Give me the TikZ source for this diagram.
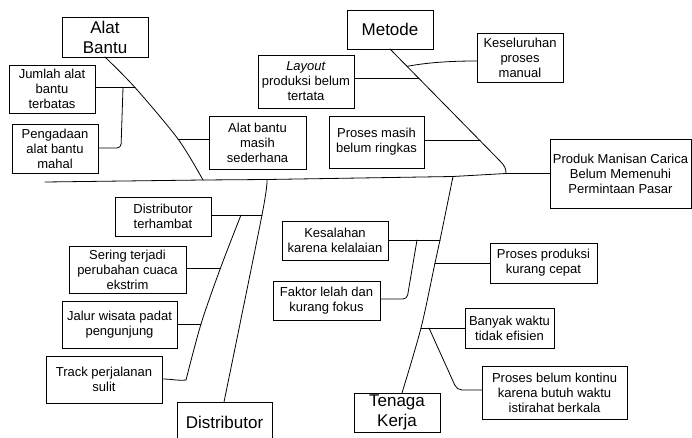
\documentclass[tikz,border=0pt]{standalone}
\usepackage{fontspec}
\setmainfont{Liberation Sans}
\usetikzlibrary{calc}
\begin{document}
\begin{tikzpicture}[x=1pt,y=-1pt,
  box/.style={draw, line width=0.8pt, align=center, inner sep=1pt, font=\fontsize{13}{15}\selectfont},
  bigbox/.style={box, font=\fontsize{17}{20}\selectfont},
  bone/.style={line width=0.8pt, line join=round, line cap=round}]
\fill[white] (0,0) rectangle (692,438);
\useasboundingbox (0,0) rectangle (692,438);

% category boxes
\node[bigbox, minimum width=86pt, minimum height=40pt] (alat) at (105,37) {Alat\\Bantu};
\node[bigbox, minimum width=86pt, minimum height=39pt] (metode) at (390,29.5) {Metode};
\node[bigbox, minimum width=95pt, minimum height=40pt] (distributor) at (224.5,422) {Distributor};
\node[bigbox, minimum width=86pt, minimum height=39pt] (tenaga) at (397,412.5) {Tenaga\\Kerja};
% effect
\node[box, minimum width=141pt, minimum height=69pt] (effect) at (620.5,173.5) {Produk Manisan Carica\\Belum Memenuhi\\Permintaan Pasar};

% cause boxes
\node[box, minimum width=86pt, minimum height=48pt] (jumlah) at (52,89) {Jumlah alat\\bantu\\terbatas};
\node[box, minimum width=86pt, minimum height=49pt] (pengadaan) at (55,148.5) {Pengadaan\\alat bantu\\mahal};
\node[box, minimum width=97pt, minimum height=53pt] (sederhana) at (257.5,142.5) {Alat bantu\\masih\\sederhana};
\node[box, minimum width=96pt, minimum height=53pt] (layout) at (306,81.5) {\textit{Layout}\\produksi belum\\tertata};
\node[box, minimum width=95pt, minimum height=52pt] (ringkas) at (376.5,142) {Proses masih\\belum ringkas};
\node[box, minimum width=86pt, minimum height=49pt] (keseluruhan) at (520,57.5) {Keseluruhan\\proses\\manual};
\node[box, minimum width=96pt, minimum height=39pt] (terhambat) at (163,216.5) {Distributor\\terhambat};
\node[box, minimum width=117pt, minimum height=47pt] (sering) at (127.5,269.5) {Sering terjadi\\perubahan cuaca\\ekstrim};
\node[box, minimum width=115pt, minimum height=47pt] (jalur) at (119.5,324.5) {Jalur wisata padat\\pengunjung};
\node[box, minimum width=116pt, minimum height=47pt] (track) at (104,379.5) {Track perjalanan\\sulit};
\node[box, minimum width=106pt, minimum height=39pt] (kesalahan) at (335,240.5) {Kesalahan\\karena kelalaian};
\node[box, minimum width=107pt, minimum height=39pt] (faktor) at (326.5,300.5) {Faktor lelah dan\\kurang fokus};
\node[box, minimum width=107pt, minimum height=40pt] (produksi) at (543.5,263) {Proses produksi\\kurang cepat};
\node[box, minimum width=89pt, minimum height=40pt] (banyak) at (509.5,328) {Banyak waktu\\tidak efisien};
\node[box, minimum width=145pt, minimum height=53pt] (kontinu) at (554.5,392.5) {Proses belum kontinu\\karena butuh waktu\\istirahat berkala};

% spine
\coordinate (tail) at (45,182);
\coordinate (sA) at (203,180);
\coordinate (sD) at (267,179.5);
\coordinate (sT) at (453,176.5);
\coordinate (sM) at (506,173.5);
\draw[bone] (tail) -- (sA) -- (sD) -- (sT) -- (sM) -- (effect.west);

% Alat Bantu bone
\coordinate (a0) at (105,57);
\coordinate (aJ) at (135,87.5);
\coordinate (aS) at (178,139);
\draw[bone] plot[smooth, tension=0.5] coordinates {(a0) (aJ) (aS) (sA)};
\draw[bone] (jumlah.east |- aJ) -- (aJ);
\coordinate (aJ2) at (123,87.5);
\coordinate (aP) at (121,148);
\draw[bone, rounded corners=4pt] (pengadaan.east |- aP) -- (aP) -- (aJ2);
\draw[bone] (aS) -- (sederhana.west |- aS);

% Metode bone
\coordinate (m0) at (390,49);
\coordinate (mB) at (500,161);
\coordinate (mK) at ($(m0)!0.155!(mB)$);
\coordinate (mL) at ($(m0)!0.26!(mB)$);
\coordinate (mR) at ($(m0)!0.82!(mB)$);
\coordinate (kE) at (477,61);
\draw[bone] (m0) -- (mB) .. controls (505,166) and (506,169) .. (sM);
\draw[bone] (mK) .. controls (430,62) and (455,61) .. (keseluruhan.west |- kE);
\draw[bone] (layout.east |- mL) -- (mL);
\draw[bone] (ringkas.east |- mR) -- (mR);

% Distributor bone
\coordinate (dJ) at (262,215);
\coordinate (dE) at (224,402);
\draw[bone] plot[smooth, tension=0.5] coordinates {(sD) (dJ) (dE)};
\draw[bone] (terhambat.east |- dJ) -- (dJ);
\coordinate (d0) at (241,215);
\coordinate (dS) at (220.5,268);
\coordinate (dW) at (201,324);
\coordinate (dT) at (186,380);
\coordinate (trE) at (162,379);
\draw[bone] plot[smooth, tension=0.5] coordinates {(d0) (dS) (dW) (dT)};
\draw[bone] (sering.east |- dS) -- (dS);
\draw[bone] (jalur.east |- dW) -- (dW);
\draw[bone] (track.east |- trE) .. controls (172,379) and (178,381) .. (dT);

% Tenaga Kerja bone
\coordinate (tK) at (440,240);
\coordinate (tP) at (435,263);
\coordinate (tB) at (421,328);
\coordinate (tE) at (402,393);
\draw[bone] plot[smooth, tension=0.5] coordinates {(sT) (tK) (tP) (tB) (tE)};
\draw[bone] (kesalahan.east |- tK) -- (tK);
\coordinate (tK2) at (417,240);
\coordinate (tF) at (407,299);
\draw[bone, rounded corners=4pt] (faktor.east |- tF) -- (tF) -- (tK2);
\draw[bone] (tP) -- (produksi.west |- tP);
\draw[bone] (tB) -- (banyak.west |- tB);
\coordinate (tB2) at (429,328);
\coordinate (tC) at (457,390);
\draw[bone, rounded corners=5pt] (tB2) -- (tC) -- (kontinu.west |- tC);
\end{tikzpicture}
\end{document}
